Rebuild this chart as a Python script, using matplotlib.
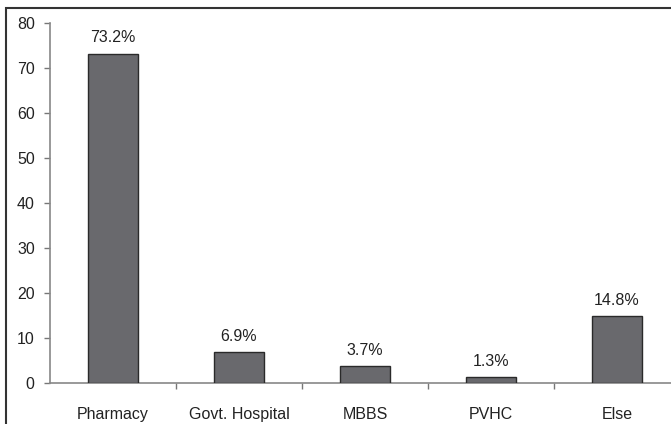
import matplotlib
matplotlib.use("Agg")
import matplotlib.pyplot as plt
from matplotlib.patches import Rectangle

categories = ["Pharmacy", "Govt. Hospital", "MBBS", "PVHC", "Else"]
values = [73.2, 6.9, 3.7, 1.3, 14.8]
labels = ["73.2%", "6.9%", "3.7%", "1.3%", "14.8%"]
yticks = [0, 10, 20, 30, 40, 50, 60, 70, 80]

plt.rcParams['font.family'] = ['Liberation Sans', 'DejaVu Sans']
FS = 11.5

W, H = 671, 424
fig = plt.figure(figsize=(W / 100, H / 100), dpi=100)

# outer frame
fig.patches.append(Rectangle((6 / W, -0.1), 2, (H - 8) / H + 0.1,
                             transform=fig.transFigure, fill=False,
                             edgecolor='#333333', linewidth=1.5))

left, right = 50, 680
top, bottom = 23, 383
ax = fig.add_axes([left / W, 1 - bottom / H, (right - left) / W, (bottom - top) / H])

x = list(range(len(categories)))
ax.bar(x, values, width=0.40, color='#69696d', edgecolor='#2a2a2a', linewidth=1.0, zorder=3)
for xi, v, lab in zip(x, values, labels):
    ax.text(xi, v + 1.8, lab, ha='center', va='bottom', fontsize=FS, color='#222222')

ax.set_xlim(-0.5, len(categories) - 0.5)
ax.set_ylim(0, 80)
ax.set_yticks(yticks)
ax.set_yticklabels([str(t) for t in yticks], fontsize=FS, color='#222222')
ax.set_xticks(x)
ax.set_xticklabels(categories, fontsize=FS, color='#222222')
ax.tick_params(axis='x', which='major', length=0, pad=17)
ax.set_xticks([i + 0.5 for i in range(len(categories) - 1)], minor=True)
ax.tick_params(axis='x', which='minor', length=4, color='#777777', width=1)
ax.tick_params(axis='y', length=4, color='#777777', width=1, pad=7)

for s in ['top', 'right']:
    ax.spines[s].set_visible(False)
for s in ['left', 'bottom']:
    ax.spines[s].set_color('#888888')
    ax.spines[s].set_linewidth(1.2)

fig.savefig("out.png", dpi=100)
